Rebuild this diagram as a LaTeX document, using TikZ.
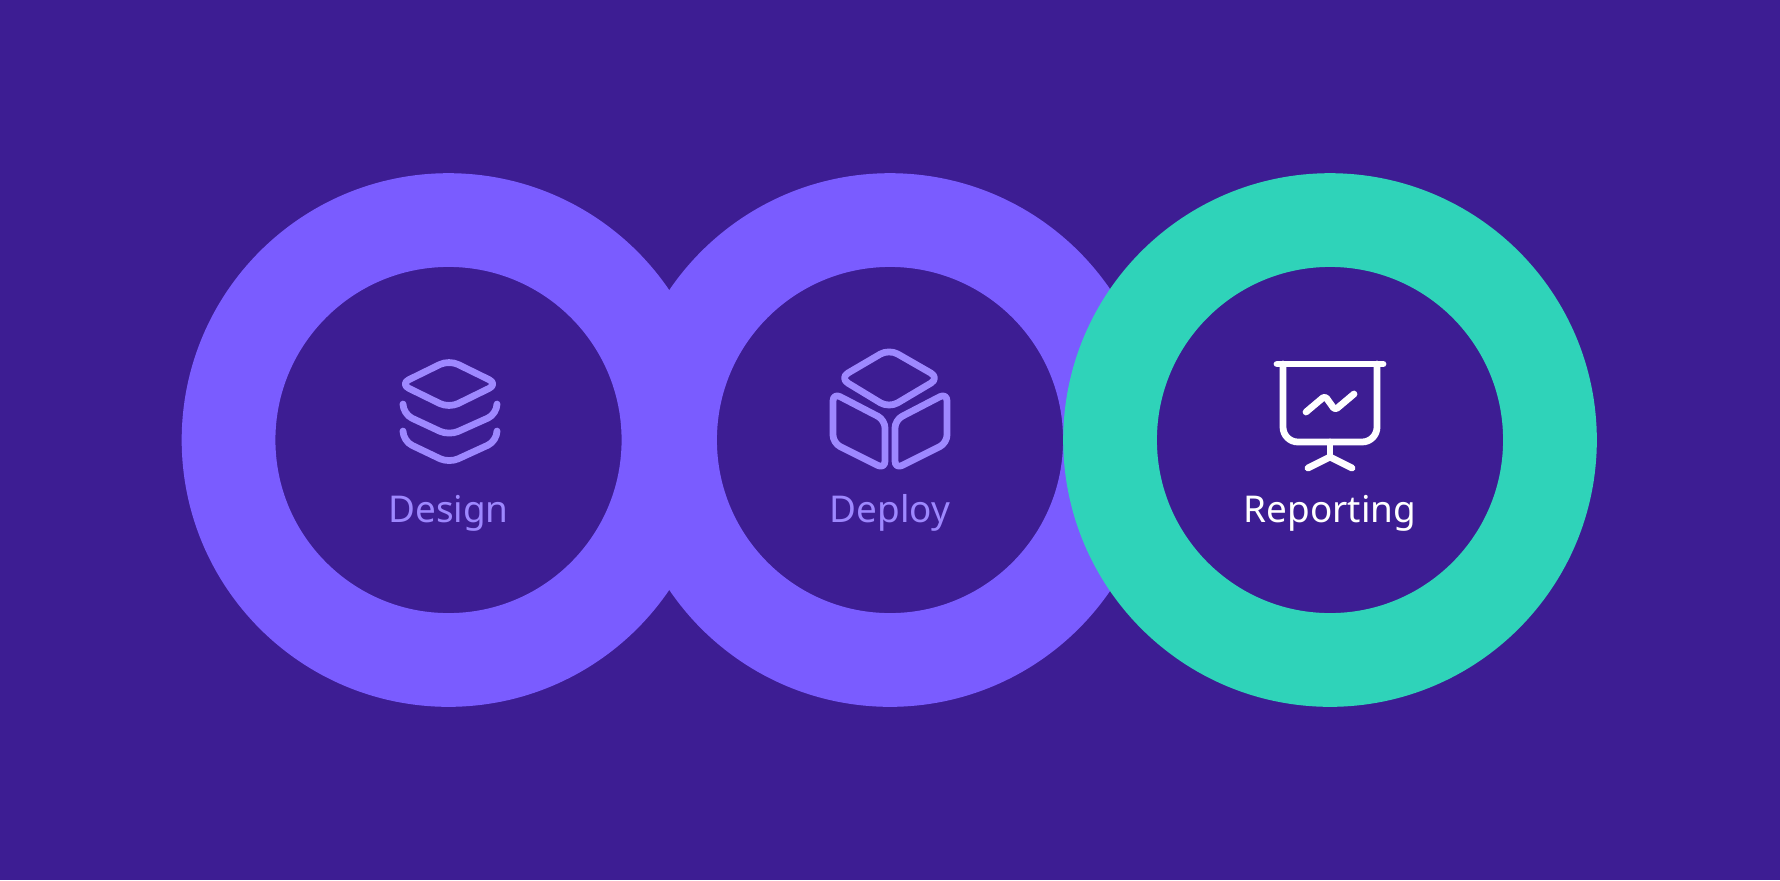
\documentclass[tikz,border=0pt]{standalone}
\usepackage{fontspec}
\setmainfont{Noto Sans}
\definecolor{bgcol}{RGB}{61,29,147}
\definecolor{ringcol}{RGB}{122,92,255}
\definecolor{tealcol}{RGB}{47,211,185}
\definecolor{softcol}{RGB}{158,136,255}
\tikzset{
	ring/.style={shape=circle, draw=#1, fill=bgcol, line width=1.875cm, minimum size=8.80cm, inner sep=0pt},
	iconline/.style={draw=#1, line width=6.8*0.5669pt, line cap=round, line join=round},
	caption/.style={anchor=base, font=\fontsize{21pt}{25pt}\selectfont, text=#1, inner sep=0pt}
}
\begin{document}
\begin{tikzpicture}[x=0.02cm,y=-0.02cm]
				\fill[bgcol] (0,0) rectangle (1780,880);
				\useasboundingbox (0,0) rectangle (1780,880);
				\node[ring=ringcol] (design) at (448.5,440) {};
				\node[ring=ringcol] (deploy) at (890,440) {};
				\node[ring=tealcol] (reporting) at (1330,440) {};
				\node[caption=softcol] (designlabel) at (448.5,522) {Design};
				\node[caption=softcol] (deploylabel) at (890,522) {Deploy};
				\node[caption=white] (reportinglabel) at (1330,522) {Reporting};
				% stack
				\draw[iconline=softcol, rounded corners=10pt*0.5669] (424.5,372) -- (449,360) -- (498,384) -- (449,408) -- (400,384) -- cycle;
				\draw[iconline=softcol, rounded corners=10pt*0.5669] (403,405) -- (403,414) -- (449,435.5) -- (497,414) -- (497,405);
				\draw[iconline=softcol, rounded corners=10pt*0.5669] (403,432) -- (403,441) -- (449,463) -- (497,441) -- (497,432);
				% cube
				\draw[iconline=softcol, rounded corners=10pt*0.5669] (864.25,363.5) -- (889,349) -- (939.5,378) -- (889,408) -- (839.5,378) -- cycle;
				\draw[iconline=softcol, rounded corners=8pt*0.5669] (833,418) -- (833,393) -- (885,420) -- (885,469) -- (833,443) -- cycle;
				\draw[iconline=softcol, rounded corners=8pt*0.5669] (947,418) -- (947,393) -- (895,420) -- (895,469) -- (947,443) -- cycle;
				% screen
				\draw[iconline=white] (1277,364) -- (1383,364);
				\draw[iconline=white, rounded corners=15pt*0.5669] (1283,364) -- (1283,442) -- (1377,442) -- (1377,364);
				\draw[iconline=white] (1330,442) -- (1330,457);
				\draw[iconline=white] (1308,468) -- (1330,457) -- (1352,468);
				\draw[iconline=white, rounded corners=3pt*0.5669] (1306,412) -- (1325,396) -- (1335,410) -- (1354,394);
			\end{tikzpicture}
\end{document}
